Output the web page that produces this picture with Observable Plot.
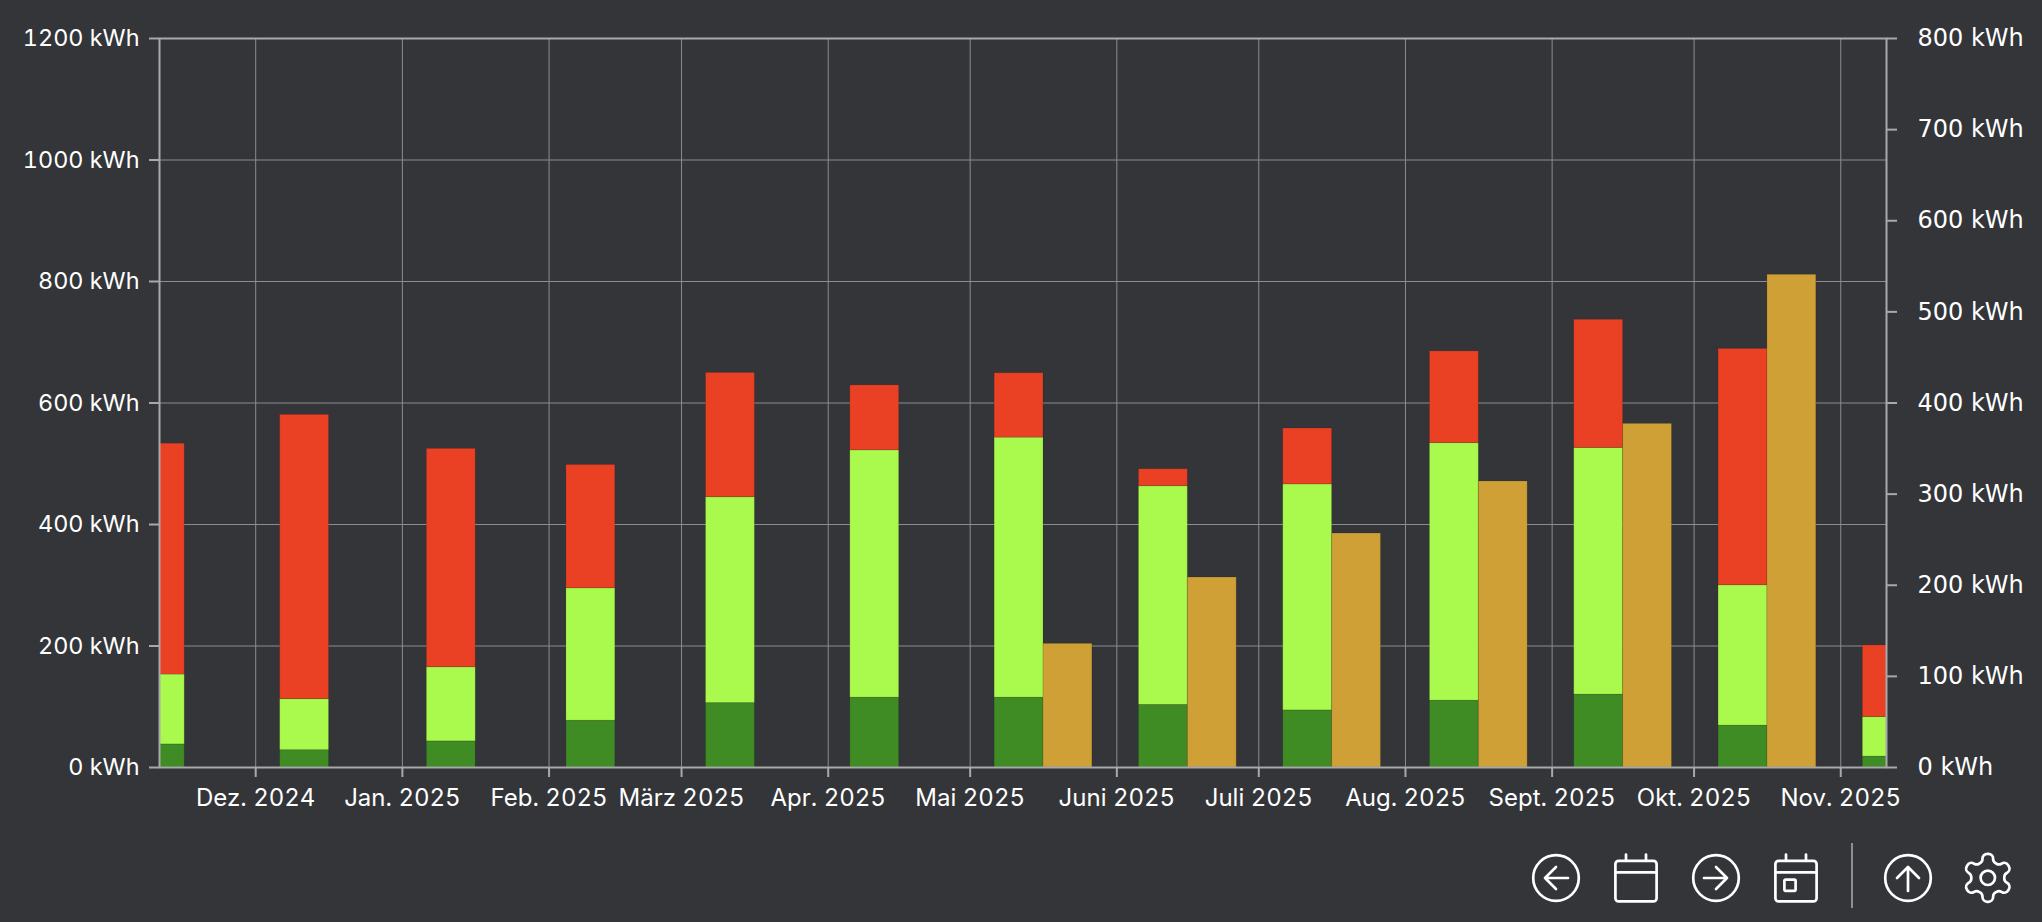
<!DOCTYPE html>
<html lang="de">
<head>
<meta charset="utf-8">
<title>Energie</title>
<script src="https://cdn.jsdelivr.net/npm/d3@7"></script>
<script src="https://cdn.jsdelivr.net/npm/@observablehq/plot@0.6"></script>
<style>
html,body{margin:0;padding:0;background:#333539;overflow:hidden}
#chart{position:relative;width:2042px;height:922px}
#chart>svg{position:absolute;left:0;top:0}
.icon{position:absolute;fill:none;stroke:#fff;stroke-linecap:round;stroke-linejoin:round}
.sep{position:absolute;left:1851px;top:843px;width:2px;height:65px;background:#8e8f91}
</style>
</head>
<body>
<div id="chart"></div>
<script>
const monthStarts = ["2024-11-01","2024-12-01","2025-01-01","2025-02-01","2025-03-01","2025-04-01","2025-05-01","2025-06-01","2025-07-01","2025-08-01","2025-09-01","2025-10-01","2025-11-01"];
const tickLabels = ["Dez. 2024","Jan. 2025","Feb. 2025","März 2025","Apr. 2025","Mai 2025","Juni 2025","Juli 2025","Aug. 2025","Sept. 2025","Okt. 2025","Nov. 2025"];
const selfDirect = [38,28.5,43,77,106,115,115,103,94,110,120,69,18];
const selfStored = [115,84,122,218,339,407,428,360,372,424,406,231,65];
const gridImport = [380,468,359.5,203,204.5,107,106,28,92,151,211,389,118];
const yieldRight = [null,null,null,null,null,null,135.7,208.5,256.8,313.9,377.1,540.7,null];
const leftTicks = [0,200,400,600,800,1000,1200];
const rightTicks = [0,100,200,300,400,500,600,700,800];
const colors = {direct:"#3f8c25",stored:"#a9fa4c",grid:"#ea4125",yield:"#cea035"};
const barDays = 10.33;
const BG = "#333539", LINE = "#a9a9a9", GRID = "#8c8d8f";
const yRatio = 1200 / 800;

const DAY = 864e5;
const dates = monthStarts.map(s => new Date(s + "T00:00:00Z"));
const centers = dates.map(d => new Date((+d + +d3.utcMonth.offset(d, 1)) / 2));
const ticks = dates.slice(1);
const labelOf = new Map(ticks.map((d, i) => [+d, tickLabels[i]]));

const segments = [];
const yieldBars = [];
centers.forEach((c, i) => {
  const x1 = new Date(+c - barDays * DAY), x2 = c, x3 = new Date(+c + barDays * DAY);
  let base = 0;
  [["direct", selfDirect[i]], ["stored", selfStored[i]], ["grid", gridImport[i]]].forEach(([k, v]) => {
    segments.push({x1, x2, y1: base, y2: base + v, key: k});
    base += v;
  });
  if (yieldRight[i] != null) yieldBars.push({x1: x2, x2: x3, y1: 0, y2: yieldRight[i] * yRatio});
});

const SANS = "Inter, 'Noto Sans', sans-serif";
const plot = Plot.plot({
  width: 2042, height: 922,
  marginLeft: 159, marginRight: 156, marginTop: 38, marginBottom: 155,
  style: {background: BG, color: "#fff", fontFamily: SANS},
  x: {type: "utc", domain: [new Date("2024-11-10T16:00:00Z"), new Date("2025-11-10T16:00:00Z")]},
  y: {domain: [0, 1200]},
  marks: [
    Plot.gridY(leftTicks, {stroke: GRID, strokeOpacity: 1, strokeWidth: 1}),
    Plot.gridX(ticks, {stroke: GRID, strokeOpacity: 1, strokeWidth: 1}),
    Plot.rect(segments, {x1: "x1", x2: "x2", y1: "y1", y2: "y2", fill: d => colors[d.key], stroke: "#000", strokeOpacity: 0.12, strokeWidth: 1, clip: true}),
    Plot.rect(yieldBars, {x1: "x1", x2: "x2", y1: "y1", y2: "y2", fill: colors.yield, stroke: "#000", strokeOpacity: 0.12, strokeWidth: 1, clip: true}),
    Plot.axisY({ticks: leftTicks, anchor: "left", tickSize: 10, tickPadding: 10, stroke: LINE, strokeWidth: 2, fill: "#fff", fontSize: 23.4, label: null, tickFormat: d => d + " kWh"}),
    Plot.axisY({ticks: rightTicks.map(v => v * yRatio), anchor: "right", tickSize: 10, tickPadding: 21, stroke: LINE, strokeWidth: 2, fill: "#fff", fontSize: 24, fontFamily: "'DejaVu Sans'", label: null, tickFormat: d => (d / yRatio) + " kWh"}),
    Plot.axisX({ticks, anchor: "bottom", tickSize: 10, tickPadding: 11, stroke: LINE, strokeWidth: 2, fill: "#fff", fontSize: 24, label: null, tickFormat: d => labelOf.get(+d)}),
    Plot.frame({stroke: LINE, strokeWidth: 2})
  ]
});
const root = document.getElementById("chart");
root.appendChild(plot);

const icons = [
  {cx: 1556, inner: '<circle cx="12" cy="12" r="11.4"/><path d="M18 12H6.5M12 6.5 6.5 12l5.5 5.5"/>', size: 48, sw: 1.35},
  {cx: 1636, inner: '<rect x="1.7" y="3.4" width="20.6" height="20.3" rx="1.6"/><path d="M1.7 9.2h20.6M7 .3v3.1M17 .3v3.1"/>', size: 48, sw: 1.35},
  {cx: 1716, inner: '<circle cx="12" cy="12" r="11.4"/><path d="M6 12h11.5M12 6.5l5.5 5.5-5.5 5.5"/>', size: 48, sw: 1.35},
  {cx: 1796, inner: '<rect x="1.7" y="3.4" width="20.6" height="20.3" rx="1.6"/><path d="M1.7 9.2h20.6M7 .3v3.1M17 .3v3.1"/><rect x="6.2" y="12.8" width="5.6" height="5.6" rx=".6"/>', size: 48, sw: 1.35},
  {cx: 1908, inner: '<circle cx="12" cy="12" r="11.4"/><path d="M12 18.5V6.5M6.5 12 12 6.5l5.5 5.5"/>', size: 48, sw: 1.35},
  {cx: 1987.5, inner: '<path d="M12.22 2h-.44a2 2 0 0 0-2 2v.18a2 2 0 0 1-1 1.73l-.43.25a2 2 0 0 1-2 0l-.15-.08a2 2 0 0 0-2.73.73l-.22.38a2 2 0 0 0 .73 2.73l.15.1a2 2 0 0 1 1 1.72v.51a2 2 0 0 1-1 1.74l-.15.09a2 2 0 0 0-.73 2.73l.22.38a2 2 0 0 0 2.73.73l.15-.08a2 2 0 0 1 2 0l.43.25a2 2 0 0 1 1 1.73V20a2 2 0 0 0 2 2h.44a2 2 0 0 0 2-2v-.18a2 2 0 0 1 1-1.73l.43-.25a2 2 0 0 1 2 0l.15.08a2 2 0 0 0 2.73-.73l.22-.39a2 2 0 0 0-.73-2.73l-.15-.08a2 2 0 0 1-1-1.74v-.5a2 2 0 0 1 1-1.74l.15-.09a2 2 0 0 0 .73-2.73l-.22-.38a2 2 0 0 0-2.73-.73l-.15.08a2 2 0 0 1-2 0l-.43-.25a2 2 0 0 1-1-1.73V4a2 2 0 0 0-2-2z"/><circle cx="12" cy="12" r="3"/>', size: 57.6, sw: 1.12}
];
icons.forEach(ic => {
  const s = document.createElementNS("http://www.w3.org/2000/svg", "svg");
  s.setAttribute("viewBox", "0 0 24 24");
  s.setAttribute("width", ic.size);
  s.setAttribute("height", ic.size);
  s.setAttribute("class", "icon");
  s.setAttribute("stroke-width", ic.sw);
  s.style.left = (ic.cx - ic.size / 2) + "px";
  s.style.top = (878 - ic.size / 2) + "px";
  s.style.overflow = "visible";
  s.innerHTML = ic.inner;
  root.appendChild(s);
});
const sep = document.createElement("div");
sep.className = "sep";
root.appendChild(sep);
</script>
</body>
</html>
